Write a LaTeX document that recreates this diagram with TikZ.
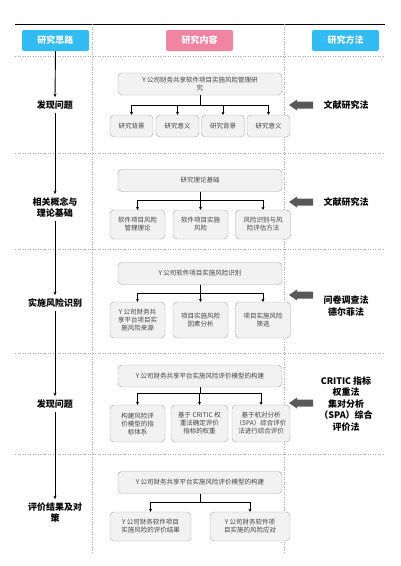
\documentclass[tikz,border=0pt]{standalone}
\usepackage{fontspec}
\setmainfont{Noto Sans CJK SC}
\usetikzlibrary{shapes,arrows,positioning,calc,arrows.meta}
\definecolor{headblue}{HTML}{33BBF3}
\definecolor{headpink}{HTML}{F084A2}
\definecolor{boxfill}{HTML}{F2F2F2}
\definecolor{boxline}{HTML}{A6A6A6}
\definecolor{boxtext}{HTML}{444444}
\definecolor{arrowgray}{HTML}{595959}

\begin{document}
\begin{tikzpicture}[x=1pt,y=-1pt,
  head/.style={rounded corners=2pt, minimum width=67pt, minimum height=21pt, text=white, font=\bfseries\fontsize{9}{10}\selectfont, inner sep=0pt},
  topbox/.style={draw=boxline, fill=boxfill, rounded corners=4pt, minimum width=164pt, minimum height=22pt, text=boxtext, font=\fontsize{6.5}{7.5}\selectfont, align=center, inner sep=1pt},
  subbox/.style 2 args={draw=boxline, fill=boxfill, rounded corners=4pt, minimum width=#1, minimum height=#2, text=boxtext, font=\fontsize{6.5}{8}\selectfont, align=center, inner sep=1pt},
  stage/.style={font=\bfseries\fontsize{9}{11}\selectfont, align=center},
  method/.style={font=\bfseries\fontsize{9}{11.5}\selectfont, align=center},
  conn/.style={-{Stealth[length=3pt,width=3pt]}, line width=0.5pt},
  flow/.style={-{Stealth[length=3.5pt,width=3pt]}, line width=0.9pt},
  sep/.style={gray!70, dotted, line width=0.5pt}]
\useasboundingbox (0,0) rectangle (400,566);

% frame
\draw[line width=0.8pt] (15,24) -- (385,24);
\foreach \y in {56,153,249,353,454}
  \draw[sep] (15,\y) -- (385,\y);
\draw[sep] (92,24) -- (92,553);
\draw[sep] (284,24) -- (284,553);

% headers
\node[head, fill=headblue] (hidea) at (55.5,40.5) {研究思路};
\node[head, fill=headpink] (hcont) at (199.5,40.5) {研究内容};
\node[head, fill=headblue] (hmeth) at (345.5,40.5) {研究方法};

% left column
\node[stage] (s1) at (55,105) {发现问题};
\node[stage] (s2) at (55,207.5) {相关概念与\\理论基础};
\node[stage] (s3) at (55,303) {实施风险识别};
\node[stage] (s4) at (55,404) {发现问题};
\node[stage] (s5) at (55,512.5) {评价结果及对\\策};
\draw[flow] (hidea.south) -- (s1.north);
\draw[flow] (s1.south) -- (s2.north);
\draw[flow] (s2.south) -- (s3.north);
\draw[flow] (s3.south) -- (s4.north);
\draw[flow] (s4.south) -- (s5.north);

% part 1
\node[topbox] (t1) at (200,84) {Y 公司财务共享软件项目实施风险管理研\\究};
\node[subbox={43pt}{22pt}] (c11) at (131.5,126) {研究背景};
\node[subbox={43pt}{22pt}] (c12) at (177.5,126) {研究意义};
\node[subbox={43pt}{22pt}] (c13) at (223,126) {研究背景};
\node[subbox={43pt}{22pt}] (c14) at (268.5,126) {研究意义};
\foreach \c in {c11,c12,c13,c14}
  \draw[conn] (t1.south) -- ++(0,10) -| (\c.north);

% part 2
\node[topbox] (t2) at (200,180.5) {研究理论基础};
\node[subbox={55pt}{29pt}] (c21) at (137.5,224.5) {软件项目风险\\管理理论};
\node[subbox={55pt}{29pt}] (c22) at (200.5,224.5) {软件项目实施\\风险};
\node[subbox={55pt}{29pt}] (c23) at (263,224.5) {风险识别与风\\险评估方法};
\foreach \c in {c21,c22,c23}
  \draw[conn] (t2.south) -- ++(0,9) -| (\c.north);

% part 3
\node[topbox] (t3) at (200,273.5) {Y 公司软件项目实施风险识别};
\node[subbox={55pt}{36pt}] (c31) at (137.5,320) {Y 公司财务共\\享平台项目实\\施风险来源};
\node[subbox={55pt}{36pt}] (c32) at (200.5,320) {项目实施风险\\因素分析};
\node[subbox={55pt}{36pt}] (c33) at (263,320) {项目实施风险\\筛选};
\foreach \c in {c31,c32,c33}
  \draw[conn] (t3.south) -- ++(0,9) -| (\c.north);

% part 4
\node[topbox] (t4) at (200,376) {Y 公司财务共享平台实施风险评价模型的构建};
\node[subbox={55pt}{37pt}] (c41) at (137.5,423.5) {构建风险评\\价模型的指\\标体系};
\node[subbox={57pt}{37pt}] (c42) at (199.5,423.5) {基于 CRITIC 权\\重法确定评价\\指标的权重};
\node[subbox={58pt}{37pt}] (c43) at (261,423.5) {基于机对分析\\（SPA）综合评价\\法进行综合评价};
\foreach \c in {c41,c42,c43}
  \draw[conn] (t4.south) -- ++(0,6) -| (\c.north);

% part 5
\node[topbox] (t5) at (200,482.5) {Y 公司财务共享平台实施风险评价模型的构建};
\node[subbox={81pt}{29pt}] (c51) at (150.5,526.5) {Y 公司财务软件项目\\实施风险的评价结果};
\node[subbox={80pt}{29pt}] (c52) at (250,526.5) {Y 公司财务软件项\\目实施的风险应对};
\foreach \c in {c51,c52}
  \draw[conn] (t5.south) -- ++(0,9) -| (\c.north);

% right column
\foreach \y in {105,202,295,403}
  \fill[arrowgray] (289,\y) -- (297,\y-5.5) -- (297,\y-3.5) -- (313,\y-3.5)
    -- (313,\y+3.5) -- (297,\y+3.5) -- (297,\y+5.5) -- cycle;
\node[method] (m1) at (346,105) {文献研究法};
\node[method] (m2) at (346,202) {文献研究法};
\node[method] (m3) at (346,306) {问卷调查法\\德尔菲法};
\node[method] (m4) at (346,404) {CRITIC 指标\\权重法\\集对分析\\（SPA）综合\\评价法};
\end{tikzpicture}
\end{document}
